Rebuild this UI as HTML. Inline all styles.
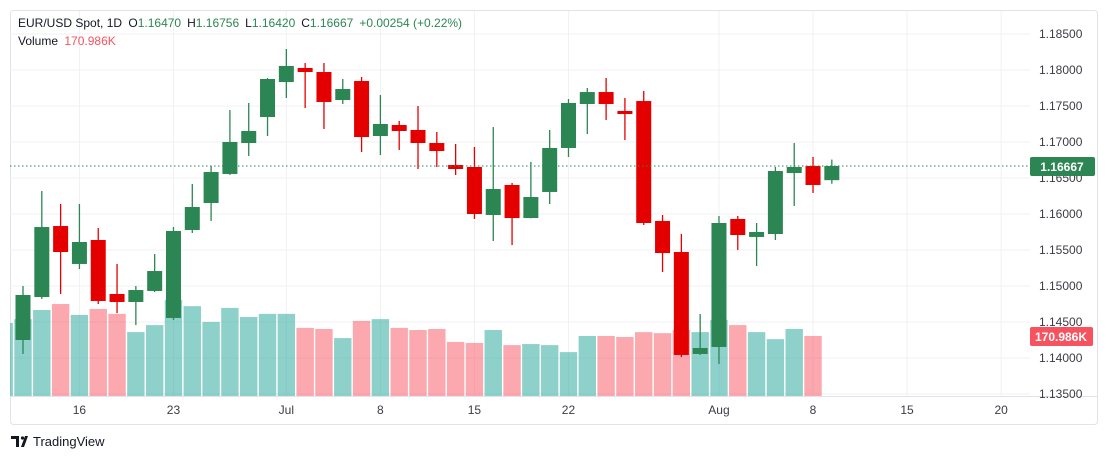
<!DOCTYPE html>
<html><head><meta charset="utf-8"><style>
html,body{margin:0;padding:0;background:#fff;width:1108px;height:459px;overflow:hidden}
svg{display:block;font-family:"Liberation Sans",sans-serif}
</style></head><body>
<svg id="chart" width="1108" height="459" viewBox="0 0 1108 459" xmlns="http://www.w3.org/2000/svg">
  <defs><clipPath id="pane"><rect x="10" y="11" width="1020" height="385"/></clipPath></defs>
  <rect x="10.5" y="10.5" width="1087" height="414" rx="3" fill="#fff" stroke="#e0e3eb"/>
  <g id="grid"></g>
  <g id="vol" clip-path="url(#pane)"></g>
  <g id="candles" clip-path="url(#pane)"></g>
  <line x1="10" x2="1030" y1="166" y2="166" stroke="#2c8654" stroke-dasharray="1.5,2.5" stroke-width="1"/>
  <line x1="10" x2="1097" y1="396.5" y2="396.5" stroke="#e0e3eb"/>
  <g id="yaxis" font-size="12" fill="#3b3d45"></g>
  <g id="xaxis" font-size="12" fill="#3b3d45" text-anchor="middle"></g>
  <g>
    <rect x="1030" y="157" width="65" height="19" rx="2" fill="#2c8654"/>
    <text x="1062" y="171" font-size="12" font-weight="bold" fill="#fff" text-anchor="middle">1.16667</text>
  </g>
  <g>
    <rect x="1030" y="327" width="63" height="19" rx="2" fill="#f7525f"/>
    <text x="1061" y="341" font-size="12" font-weight="bold" fill="#fff" text-anchor="middle">170.986K</text>
  </g>
  <g font-size="12">
    <text x="18" y="27" fill="#131722">EUR/USD Spot, 1D <tspan dx="3">O</tspan><tspan fill="#2c8654">1.16470</tspan><tspan dx="6">H</tspan><tspan fill="#2c8654">1.16756</tspan><tspan dx="6">L</tspan><tspan fill="#2c8654">1.16420</tspan><tspan dx="6">C</tspan><tspan fill="#2c8654">1.16667</tspan><tspan dx="6" fill="#2c8654">+0.00254 (+0.22%)</tspan></text>
    <text x="18" y="45" fill="#131722">Volume <tspan dx="3" fill="#f7525f">170.986K</tspan></text>
  </g>
  <g>
    <path d="M11 436h8v11h-3v-8h-5z M21 447l4-11h3l-4 11z" fill="#131722"/>
    <circle cx="22.5" cy="438" r="1.6" fill="#131722"/>
    <text x="33" y="446" font-size="13" fill="#131722">TradingView</text>
  </g>
</svg>
<script>
const opens=[1.1425,1.14847,1.15833,1.15306,1.15639,1.14889,1.14778,1.14931,1.14556,1.15778,1.16153,1.16556,1.16986,1.17347,1.17833,1.18028,1.17972,1.17583,1.17847,1.17083,1.17236,1.17167,1.16986,1.16681,1.16653,1.15986,1.16403,1.15944,1.16306,1.16917,1.17528,1.17694,1.17431,1.17569,1.15903,1.15472,1.14056,1.14153,1.15931,1.15681,1.15722,1.16569,1.16667,1.1647];
const highs=[1.15,1.16319,1.16139,1.16139,1.15806,1.15306,1.15,1.15444,1.15819,1.16417,1.16667,1.17444,1.17542,1.17889,1.18292,1.18097,1.18097,1.17875,1.17903,1.17653,1.17292,1.175,1.17139,1.16972,1.16931,1.17208,1.16431,1.16722,1.17167,1.17597,1.1775,1.17889,1.17611,1.17708,1.15986,1.15722,1.14611,1.15972,1.15972,1.15875,1.16653,1.16986,1.16792,1.16756];
const lows=[1.14056,1.1482,1.14889,1.15236,1.1475,1.14625,1.14458,1.14917,1.14528,1.15736,1.15903,1.16542,1.16806,1.17083,1.17611,1.17472,1.17181,1.17528,1.16861,1.16819,1.16889,1.16625,1.16653,1.16542,1.15931,1.15625,1.15569,1.1594,1.16139,1.16792,1.17111,1.17306,1.17028,1.15847,1.15194,1.14014,1.14042,1.13917,1.155,1.15278,1.15639,1.16111,1.16292,1.1642];
const closes=[1.14875,1.15819,1.15472,1.15611,1.14792,1.14778,1.14944,1.15208,1.15764,1.16097,1.16583,1.17,1.17153,1.17875,1.18056,1.17972,1.17556,1.17736,1.17069,1.1725,1.17153,1.16986,1.16875,1.16625,1.16,1.16347,1.15944,1.16236,1.16917,1.17542,1.17694,1.17528,1.17389,1.15875,1.15458,1.14042,1.14139,1.15875,1.15708,1.1575,1.16597,1.16653,1.16403,1.16667];
// volume in thousands, first entry belongs to the bar before the first visible candle
const volumes=[208,219,245,262,231,248,234,182,202,274,256,211,251,225,234,234,194,191,165,214,219,194,188,191,154,151,188,145,148,145,125,171,171,168,182,179,188,182,217,202,182,162,191,171];
const priceTicks=["1.18500","1.18000","1.17500","1.17000","1.16500","1.16000","1.15500","1.15000","1.14500","1.14000","1.13500"];
const timeLabels=["16","23","Jul","8","15","22","Aug","8","15","20"];
const timeLabelBars=[3,8,14,19,24,29,37,42,47,52];

const NS="http://www.w3.org/2000/svg";
const X0=23,STEP=18.81;
function xs(i){return X0+i*STEP;}
function ys(p){return 34+(1.185-p)*7200;}
function vh(v){return v*0.351;}
function mk(tag,attrs,parent){const e=document.createElementNS(NS,tag);for(const k in attrs)e.setAttribute(k,attrs[k]);parent.appendChild(e);return e;}

const grid=document.getElementById('grid'),yaxis=document.getElementById('yaxis'),xaxis=document.getElementById('xaxis');
priceTicks.forEach(t=>{
  const y=ys(parseFloat(t));
  const l=mk('line',{x1:10,x2:1030,y1:y,y2:y,stroke:'#f0f1f4'},grid);
  
  
  const tx=mk('text',{x:1039,y:y+4},yaxis);
  
  
  tx.textContent=t;
});
timeLabels.forEach((t,k)=>{
  const x=xs(timeLabelBars[k]);
  const l=mk('line',{x1:x,x2:x,y1:11,y2:396,stroke:'#f0f1f4'},grid);
  
  
  const tx=mk('text',{x:x,y:414},xaxis);
  
  
  tx.textContent=t;
});

const vg=document.getElementById('vol');
volumes.forEach((v,j)=>{
  const i=j-1;
  const up=i<0?true:closes[i]>=opens[i];
  const h=vh(v);
  const r=mk('rect',{x:xs(i)-8.7,y:396-h,width:17.4,height:h,fill:up?'rgba(38,166,154,0.52)':'rgba(247,82,95,0.5)'},vg);
  
  
});

const cg=document.getElementById('candles');
opens.forEach((o,i)=>{
  const c=closes[i],up=c>=o,col=up?'#2c8654':'#e50000',x=xs(i);
  const g=mk('g',{},cg);
  
  
  mk('line',{x1:x,x2:x,y1:ys(highs[i]),y2:ys(lows[i]),stroke:col,'stroke-width':1.3},g);
  const top=ys(Math.max(o,c)),bot=ys(Math.min(o,c));
  mk('rect',{x:x-7.5,y:top,width:15,height:Math.max(1.5,bot-top),fill:col},g);
});
</script>
</body></html>
